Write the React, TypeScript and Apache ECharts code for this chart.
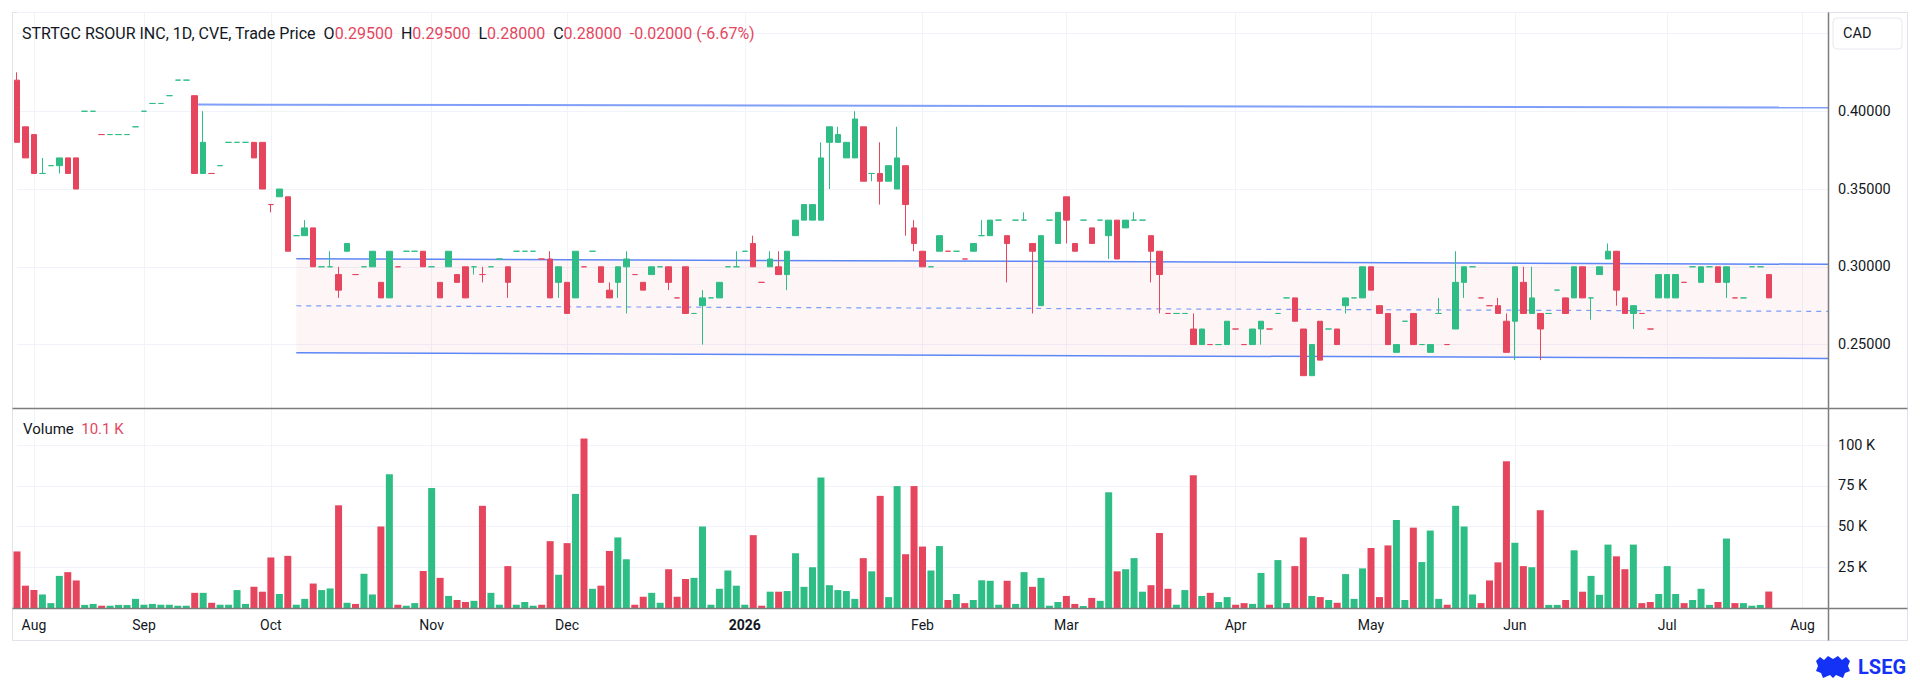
import { useEffect, useRef } from "react";
import * as echarts from "echarts";

// [open, high, low, close] per traded day
const candles: number[][] = [
  [.42,.425,.38,.38],[.39,.39,.37,.37],[.385,.385,.36,.36],[.36,.37,.36,.36],[.365,.365,.365,.365],
  [.365,.37,.36,.37],[.37,.37,.36,.36],[.37,.37,.35,.35],[.40,.40,.40,.40],[.40,.40,.40,.40],
  [.385,.385,.385,.385],[.385,.385,.385,.385],[.385,.385,.385,.385],[.385,.385,.385,.385],[.39,.39,.39,.39],
  [.40,.40,.40,.40],[.405,.405,.405,.405],[.405,.405,.405,.405],[.41,.41,.41,.41],[.42,.42,.42,.42],
  [.42,.42,.42,.42],[.41,.41,.36,.36],[.36,.40,.36,.38],[.36,.36,.36,.36],[.365,.365,.365,.365],
  [.38,.38,.38,.38],[.38,.38,.38,.38],[.38,.38,.38,.38],[.38,.38,.37,.37],[.38,.38,.35,.35],
  [.34,.34,.335,.34],[.345,.35,.345,.35],[.345,.345,.31,.31],[.32,.32,.32,.32],[.32,.33,.32,.325],
  [.325,.325,.30,.30],[.30,.30,.30,.30],[.30,.31,.30,.30],[.295,.30,.28,.285],[.31,.315,.31,.315],
  [.295,.295,.295,.295],[.30,.30,.30,.30],[.30,.31,.30,.31],[.29,.29,.28,.28],[.28,.31,.28,.31],
  [.30,.30,.30,.30],[.31,.31,.31,.31],[.31,.31,.31,.31],[.31,.31,.30,.30],[.30,.30,.30,.30],
  [.29,.29,.28,.28],[.30,.31,.30,.31],[.295,.295,.29,.29],[.30,.30,.28,.28],[.30,.30,.295,.30],
  [.295,.30,.29,.295],[.30,.30,.30,.30],[.305,.305,.305,.305],[.30,.30,.28,.29],[.31,.31,.31,.31],
  [.31,.31,.31,.31],[.31,.31,.31,.31],[.305,.305,.305,.305],[.305,.31,.28,.28],[.29,.30,.28,.30],
  [.29,.29,.27,.27],[.28,.31,.28,.31],[.30,.30,.30,.30],[.31,.31,.31,.31],[.30,.30,.29,.29],
  [.285,.29,.28,.28],[.29,.30,.28,.30],[.30,.31,.27,.305],[.295,.295,.295,.295],[.29,.29,.285,.285],
  [.295,.30,.295,.30],[.30,.30,.30,.30],[.30,.30,.285,.29],[.28,.28,.28,.28],[.30,.30,.27,.27],
  [.27,.27,.27,.27],[.275,.285,.25,.28],[.28,.28,.28,.28],[.28,.29,.28,.29],[.30,.30,.30,.30],
  [.30,.31,.30,.30],[.31,.31,.31,.31],[.315,.32,.30,.30],[.29,.29,.29,.29],[.30,.31,.30,.305],
  [.30,.31,.295,.295],[.295,.31,.285,.31],[.32,.33,.32,.33],[.33,.34,.33,.34],[.33,.34,.33,.34],
  [.33,.38,.33,.37],[.38,.39,.35,.39],[.38,.39,.38,.385],[.37,.38,.37,.38],[.37,.40,.37,.395],
  [.39,.39,.355,.355],[.36,.36,.355,.36],[.36,.38,.34,.355],[.355,.365,.355,.365],[.35,.39,.35,.37],
  [.365,.365,.32,.34],[.325,.33,.31,.315],[.31,.31,.30,.30],[.30,.30,.30,.30],[.31,.32,.31,.32],
  [.31,.31,.31,.31],[.31,.31,.31,.31],[.305,.305,.305,.305],[.31,.315,.31,.315],[.32,.33,.32,.32],
  [.32,.33,.32,.33],[.33,.33,.33,.33],[.32,.32,.29,.315],[.33,.33,.33,.33],[.33,.335,.33,.33],
  [.315,.315,.27,.31],[.275,.32,.275,.32],[.33,.33,.33,.33],[.315,.335,.315,.335],[.345,.345,.315,.33],
  [.315,.315,.31,.31],[.33,.33,.33,.33],[.325,.325,.315,.315],[.33,.33,.33,.33],[.32,.33,.305,.33],
  [.33,.33,.305,.305],[.325,.33,.325,.33],[.33,.335,.33,.33],[.33,.33,.33,.33],[.32,.32,.29,.31],
  [.31,.31,.27,.295],[.27,.27,.27,.27],[.27,.27,.27,.27],[.27,.27,.27,.27],[.26,.27,.25,.25],
  [.25,.26,.25,.26],[.25,.25,.25,.25],[.25,.25,.25,.25],[.25,.265,.25,.265],[.26,.26,.26,.26],
  [.25,.25,.25,.25],[.25,.26,.25,.26],[.26,.265,.25,.265],[.26,.26,.26,.26],[.27,.27,.27,.27],
  [.28,.28,.28,.28],[.28,.28,.265,.265],[.26,.26,.23,.23],[.23,.25,.23,.25],[.265,.265,.24,.24],
  [.26,.26,.26,.26],[.26,.26,.25,.25],[.275,.28,.27,.28],[.28,.28,.28,.28],[.28,.30,.28,.30],
  [.30,.30,.285,.285],[.275,.275,.27,.27],[.27,.27,.25,.25],[.245,.25,.245,.25],[.265,.265,.265,.265],
  [.27,.27,.25,.25],[.25,.25,.25,.25],[.245,.25,.245,.25],[.27,.28,.27,.27],[.25,.25,.25,.25],
  [.26,.31,.26,.29],[.29,.30,.28,.30],[.30,.30,.30,.30],[.28,.28,.28,.28],[.275,.275,.275,.275],
  [.275,.28,.27,.27],[.265,.27,.245,.245],[.265,.30,.24,.30],[.29,.30,.27,.27],[.27,.30,.27,.28],
  [.27,.27,.24,.26],[.27,.27,.27,.27],[.285,.285,.285,.285],[.28,.28,.27,.27],[.28,.30,.28,.30],
  [.30,.30,.28,.28],[.28,.28,.266,.28],[.295,.30,.295,.30],[.305,.315,.305,.31],[.31,.31,.275,.285],
  [.28,.28,.27,.27],[.27,.275,.26,.275],[.27,.27,.27,.27],[.26,.26,.26,.26],[.28,.295,.28,.295],
  [.28,.295,.28,.295],[.28,.295,.28,.295],[.29,.29,.29,.29],[.30,.30,.30,.30],[.29,.30,.29,.30],
  [.30,.30,.30,.30],[.30,.30,.29,.29],[.29,.30,.28,.30],[.28,.28,.28,.28],[.28,.28,.28,.28],
  [.30,.30,.30,.30],[.30,.30,.30,.30],[.295,.295,.28,.28],
];

// volume in thousands
const volumesK: number[] = [
  34.7,13.7,11,8.3,3,19.7,22,16.9,1.9,2.5,
  1.4,1.4,1.9,1.9,5.6,2,2.5,2,2,1.4,
  1.4,9.3,9.3,3.2,2,2,11,2.5,13,10,
  31,8.6,32,2,5.6,15,11,12,63,3.2,
  2.5,21,8.3,50,82,2,1.4,3,22.7,73.6,
  18.5,7.4,4.9,3.7,4.4,62.7,9.3,2,25.7,2,
  3.7,1.4,2,41,20.4,39.8,70,104,11.8,13.7,
  35,43.3,29.9,2,6.9,9.3,3.2,23.8,6.9,17.8,
  18.5,50,2,11.8,23,13.7,2,44.7,1.4,10,
  10,10.4,33.6,13,25,80,14,11,10.4,5.6,
  30.6,22.5,68.8,6.7,74.8,33,74.8,37.7,23,38,
  4.9,8.6,3,4.9,17,16.7,2,16.7,2.5,22,
  13,18.5,1.4,3.7,7.4,2.5,1.2,6.2,4.4,71,
  22.5,23.8,30.6,10,14,46,11.8,2,11,81.5,
  7.4,9.3,3.7,6.7,2,3,2.5,21.5,2,29.4,
  3,25.7,43.3,7.4,6.7,4.9,3.2,20.8,5.6,24.3,
  36.8,6.7,38.4,54,4.9,49.3,28.2,47.5,5.6,2,
  62.7,50,8.3,3,16.9,28,90,40,25.7,25,
  60,1.9,1.9,4.9,35.4,10,19.7,8.1,38.9,31.7,
  23.8,38.9,3,3.7,8.6,25.7,8.6,3,4.9,11.8,
  1.9,3.7,42.6,3,3,1.4,1.9,10.1,
];

const monthNames = ["Aug", "Sep", "Oct", "Nov", "Dec", "2026", "Feb", "Mar", "Apr", "May", "Jun", "Jul", "Aug"];
const monthIndex = [2, 15, 30, 49, 65, 86, 107, 124, 144, 160, 177, 195, 211];
const slotCount = 215; // traded days plus empty future slots

// drawings: [barIndex, price]
const resistanceLine = [[21.4, 0.4043], [214, 0.4024]];
const channelUpper = [[33, 0.3052], [214, 0.3016]];
const channelLower = [[33, 0.2447], [214, 0.2411]];

const UP = "#2ebd85";
const DOWN = "#e5465e";
const TEXT = "#131722";
const FONT = "Roboto, 'Noto Sans', sans-serif";
const AXIS_FS = 14.5;

echarts.graphic.registerShape(
  "lsegCrest",
  echarts.graphic.extendPath(
    "M0 5 L4 1 L8 4 L12 0 L17 3 L22 0 L26 4 L30 1 L34 5 L32 10 L34 15 L29 17 L27 22 L20 19 L17 22 L14 19 L7 22 L5 17 L0 15 L2 10 Z",
    {}
  )
);

export default function App() {
  const ref = useRef<HTMLDivElement>(null);

  useEffect(() => {
    if (!ref.current) return;
    const chart = echarts.init(ref.current, null, { renderer: "svg" });

    const dirs = candles.map((c, i) => {
      const o = c[0], cl = c[3];
      if (cl > o) return 1;
      if (cl < o) return -1;
      const pc = i > 0 ? candles[i - 1][3] : cl;
      return cl < pc ? -1 : 1;
    });
    const colorOf = (i: number) => (dirs[i] > 0 ? UP : DOWN);

    const cats = Array.from({ length: slotCount }, (_, i) => String(i));
    const labelAt: string[] = new Array(slotCount).fill("");
    monthIndex.forEach((idx, k) => (labelAt[idx] = monthNames[k]));
    const isMonth = (i: number) => labelAt[i] !== "";

    const last = candles[candles.length - 1];
    const prevClose = candles[candles.length - 2][3];
    const chg = last[3] - prevClose;
    const pct = (chg / prevClose) * 100;
    const lastVol = volumesK[volumesK.length - 1];
    const f5 = (v: number) => v.toFixed(5);

    const candleData = candles.map((c, i) => {
      const col = colorOf(i);
      return {
        value: [c[0], c[3], c[2], c[1]],
        itemStyle: { color: col, color0: col, borderColor: col, borderColor0: col, borderColorDoji: col },
      };
    });
    const volData = volumesK.map((v, i) => ({ value: v * 1000, itemStyle: { color: colorOf(i) } }));

    const nice = (v: number, step: number) => Math.abs(v / step - Math.round(v / step)) < 1e-6;

    const lineColor = "#5d87f6";
    const midLine = [
      [channelUpper[0][0], (channelUpper[0][1] + channelLower[0][1]) / 2],
      [channelUpper[1][0], (channelUpper[1][1] + channelLower[1][1]) / 2],
    ];

    const option: any = {
      animation: false,
      backgroundColor: "#ffffff",
      textStyle: { fontFamily: FONT },
      grid: [
        { left: 17, right: 92, top: 12, height: 396.5 },
        { left: 17, right: 92, top: 408.5, height: 199.5 },
      ],
      xAxis: [
        {
          type: "category", gridIndex: 0, data: cats, boundaryGap: false,
          axisLine: { show: false }, axisTick: { show: false }, axisLabel: { show: false },
          splitLine: { show: true, interval: (i: number) => isMonth(i), lineStyle: { color: "#f0f3fa", width: 1 } },
        },
        {
          type: "category", gridIndex: 1, data: cats, boundaryGap: false,
          axisLine: { show: false }, axisTick: { show: false },
          axisLabel: {
            show: true, interval: (i: number) => isMonth(i), margin: 10,
            color: TEXT, fontSize: 14, fontFamily: FONT,
            formatter: (_v: string, i: number) => (labelAt[i] === "2026" ? "{b|2026}" : labelAt[i]),
            rich: { b: { fontWeight: "bold", fontSize: 14, color: TEXT, fontFamily: FONT } },
          },
          splitLine: { show: true, interval: (i: number) => isMonth(i), lineStyle: { color: "#f0f3fa", width: 1 } },
        },
        { type: "value", gridIndex: 0, min: 0, max: slotCount - 1, show: false },
      ],
      yAxis: [
        {
          type: "value", gridIndex: 0, position: "right", min: 0.2089, max: 0.4638, splitNumber: 5,
          axisLine: { show: false }, axisTick: { show: false },
          axisLabel: {
            margin: 10, color: TEXT, fontSize: AXIS_FS, fontFamily: FONT,
            formatter: (v: number) => (nice(v, 0.05) && v < 0.44 ? f5(v) : ""),
          },
          splitLine: { lineStyle: { color: "#f0f3fa", width: 1 } },
        },
        {
          type: "value", gridIndex: 1, position: "right", min: 0, max: 122400, interval: 25000,
          axisLine: { show: false }, axisTick: { show: false },
          axisLabel: {
            margin: 10, color: TEXT, fontSize: AXIS_FS, fontFamily: FONT,
            formatter: (v: number) => (v > 0 && nice(v, 25000) ? v / 1000 + " K" : ""),
          },
          splitLine: { lineStyle: { color: "#f0f3fa", width: 1 } },
        },
      ],
      series: [
        {
          type: "custom", xAxisIndex: 2, yAxisIndex: 0, z: 1, silent: true,
          data: [[100, 0.28]],
          renderItem: (_p: any, api: any) => ({
            type: "polygon",
            shape: {
              points: [
                api.coord(channelUpper[0]), api.coord(channelUpper[1]),
                api.coord(channelLower[1]), api.coord(channelLower[0]),
              ],
            },
            style: { fill: "rgba(242,54,69,0.05)" },
          }),
        },
        {
          type: "line", xAxisIndex: 2, yAxisIndex: 0, data: channelUpper, symbol: "none", z: 2,
          lineStyle: { color: lineColor, width: 1.5 }, silent: true,
        },
        {
          type: "line", xAxisIndex: 2, yAxisIndex: 0, data: channelLower, symbol: "none", z: 2,
          lineStyle: { color: lineColor, width: 1.5 }, silent: true,
        },
        {
          type: "line", xAxisIndex: 2, yAxisIndex: 0, data: midLine, symbol: "none", z: 2,
          lineStyle: { color: "#7b9cf7", width: 1.2, type: [5, 5] }, silent: true,
        },
        {
          type: "line", xAxisIndex: 2, yAxisIndex: 0, data: resistanceLine, symbol: "none", z: 2,
          lineStyle: { color: "#7f9ff8", width: 2 }, silent: true,
        },
        {
          type: "candlestick", xAxisIndex: 0, yAxisIndex: 0, data: candleData, barWidth: 6, clip: false, z: 3,
          itemStyle: { borderWidth: 1, color: UP, color0: DOWN, borderColor: UP, borderColor0: DOWN },
          markLine: {
            silent: true, symbol: "none", animation: false,
            lineStyle: { opacity: 0 },
            label: {
              position: "end", distance: 0, formatter: f5(last[3]),
              color: "#ffffff", backgroundColor: DOWN, padding: [4, 7, 3, 10], borderRadius: 2,
              fontSize: AXIS_FS, fontFamily: FONT,
            },
            data: [{ yAxis: last[3] }],
          },
        },
        {
          type: "bar", xAxisIndex: 1, yAxisIndex: 1, data: volData, barWidth: 7, clip: false, z: 3,
          markLine: {
            silent: true, symbol: "none", animation: false,
            lineStyle: { opacity: 0 },
            label: {
              position: "end", distance: 0, formatter: lastVol.toFixed(1) + " K",
              color: "#ffffff", backgroundColor: DOWN, padding: [3, 3, 2, 10], borderRadius: 2,
              fontSize: AXIS_FS, fontFamily: FONT,
            },
            data: [{ yAxis: lastVol * 1000 }],
          },
        },
      ],
      graphic: [
        { type: "rect", shape: { x: 12.5, y: 12.5, width: 1895, height: 628 }, style: { fill: "none", stroke: "#e0e3eb", lineWidth: 1 }, z: 0, silent: true },
        { type: "line", shape: { x1: 12.5, y1: 408.5, x2: 1907.5, y2: 408.5 }, style: { stroke: "#7d7d7d", lineWidth: 1.5 }, z: 10, silent: true },
        { type: "line", shape: { x1: 12.5, y1: 608.5, x2: 1907.5, y2: 608.5 }, style: { stroke: "#7d7d7d", lineWidth: 1.5 }, z: 10, silent: true },
        { type: "line", shape: { x1: 1828.5, y1: 12.5, x2: 1828.5, y2: 640.5 }, style: { stroke: "#7d7d7d", lineWidth: 1.5 }, z: 10, silent: true },
        { type: "rect", shape: { x: 1833, y: 18, width: 69, height: 31, r: 4 }, style: { fill: "#ffffff", stroke: "#e6e8ee", lineWidth: 1 }, z: 10, silent: true },
        { type: "text", x: 1843, y: 33.5, style: { text: "CAD", fill: TEXT, font: `${AXIS_FS}px ${FONT}`, verticalAlign: "middle", align: "left" }, z: 11, silent: true },
        {
          type: "text", x: 22, y: 33.5, z: 11, silent: true,
          style: {
            text:
              "{d|STRTGC RSOUR INC, 1D, CVE, Trade Price  O}{r|" + f5(last[0]) + "}{d|  H}{r|" + f5(last[1]) +
              "}{d|  L}{r|" + f5(last[2]) + "}{d|  C}{r|" + f5(last[3]) + "}{r|  " + chg.toFixed(5) +
              " (" + pct.toFixed(2) + "%)}",
            verticalAlign: "middle", align: "left",
            rich: {
              d: { fill: TEXT, fontSize: 16, fontFamily: FONT },
              r: { fill: DOWN, fontSize: 16, fontFamily: FONT },
            },
          },
        },
        {
          type: "text", x: 23, y: 429, z: 11, silent: true,
          style: {
            text: "{d|Volume}{r|  " + lastVol.toFixed(1) + " K}",
            verticalAlign: "middle", align: "left",
            rich: {
              d: { fill: TEXT, fontSize: 15, fontFamily: FONT },
              r: { fill: DOWN, fontSize: 15, fontFamily: FONT },
            },
          },
        },
        { type: "lsegCrest", x: 1816, y: 656, scaleX: 1, scaleY: 1, style: { fill: "#1432f5" }, z: 11, silent: true },
        { type: "text", x: 1858, y: 667, style: { text: "LSEG", fill: "#1432f5", font: `bold 20px ${FONT}`, verticalAlign: "middle", align: "left" }, z: 11, silent: true },
      ],
    };

    chart.setOption(option);
    return () => chart.dispose();
  }, []);

  return <div ref={ref} style={{ position: "absolute", left: 0, top: 0, width: 1920, height: 681, background: "#fff" }} />;
}
